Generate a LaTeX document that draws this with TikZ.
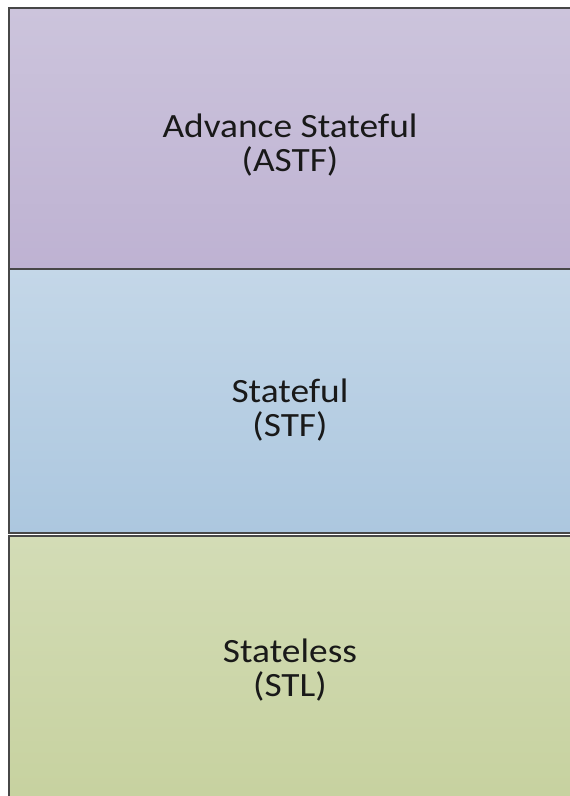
\documentclass[tikz,border=0pt]{standalone}
\usepackage{fontspec}
\setmainfont{Carlito}
\newfontfamily\labelfont[FakeStretch=1.1]{Carlito}
\begin{document}
\begin{tikzpicture}[x=1pt,y=-1pt,
  layerbox/.style={draw=black!72,line width=1.8pt,minimum width=580pt,anchor=north west,inner sep=0pt},
  layertext/.style={align=center,font=\labelfont\fontsize{34}{34}\selectfont,text=black!90}]
\useasboundingbox (0,0) rectangle (570,796);
\clip (0,0) rectangle (570,796);
\fill[white] (0,0) rectangle (570,796);
% three stacked layers, top to bottom
\node[layerbox,minimum height=261pt,top color={rgb,255:red,204;green,196;blue,220},bottom color={rgb,255:red,190;green,178;blue,210}] (astf) at (8,7) {};
\node[layerbox,minimum height=264pt,top color={rgb,255:red,196;green,215;blue,232},bottom color={rgb,255:red,172;green,199;blue,223}] (stf) at (8,268) {};
\node[layerbox,minimum height=280pt,top color={rgb,255:red,211;green,220;blue,182},bottom color={rgb,255:red,198;green,209;blue,158}] (stl) at (8,535) {};
% layer labels
\node[layertext] (astflabel) at (290,145) {Advance Stateful\\(ASTF)};
\node[layertext] (stflabel) at (290,410) {Stateful\\(STF)};
\node[layertext] (stllabel) at (290,670) {Stateless\\(STL)};
\end{tikzpicture}
\end{document}
